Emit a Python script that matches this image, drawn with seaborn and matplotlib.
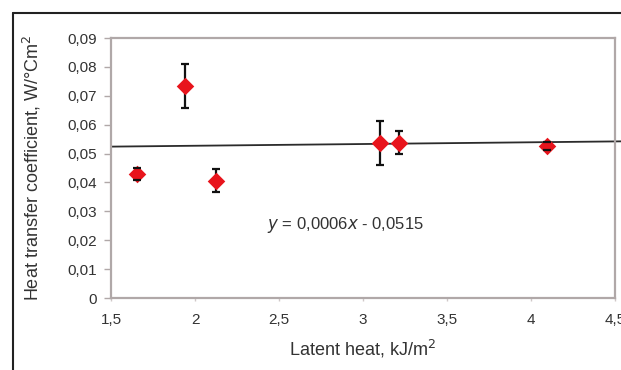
import numpy as np
import pandas as pd
import matplotlib
matplotlib.use("Agg")
import matplotlib.pyplot as plt
from matplotlib.lines import Line2D
from matplotlib.ticker import FuncFormatter
import seaborn as sns

# Measured points: latent heat (kJ/m²) vs heat transfer coefficient (W/°Cm²)
latent_heat = [1.655, 1.94, 2.125, 3.10, 3.215, 4.095]
htc = [0.0429, 0.0734, 0.0406, 0.0537, 0.0538, 0.0526]
htc_err = [0.0020, 0.0075, 0.0040, 0.0077, 0.0040, 0.0013]

# Linear trend: slope and intercept
slope = 0.0006
intercept = 0.0515

x_ticks = [1.5, 2, 2.5, 3, 3.5, 4, 4.5]
y_ticks = [0, 0.01, 0.02, 0.03, 0.04, 0.05, 0.06, 0.07, 0.08, 0.09]

sns.set_theme(style="white")
plt.rcParams["font.family"] = ["Liberation Sans", "DejaVu Sans"]

df = pd.DataFrame({"x": latent_heat, "y": htc, "err": htc_err})
trend_x = [1.5, 4.55]
trend = pd.DataFrame({"x": trend_x, "y": [slope * v + intercept for v in trend_x]})

fig = plt.figure(figsize=(6.21, 3.70), dpi=100)
ax = fig.add_axes([111 / 621, 1 - 298 / 370, (615 - 111) / 621, (298 - 38) / 370])

sns.lineplot(data=trend, x="x", y="y", ax=ax, color="#2b2b2b", lw=1.3,
             clip_on=False, zorder=2)
_, caps, _ = ax.errorbar(df["x"], df["y"], yerr=df["err"], fmt="none",
                         ecolor="#111111", elinewidth=1.6, capsize=3,
                         capthick=1.6, zorder=3)
for c in caps:
    c.set_zorder(5)
sns.scatterplot(data=df, x="x", y="y", ax=ax, marker="D", s=80, color="#e8141c",
                edgecolor="#e8141c", linewidth=0, zorder=4)

ax.set_xlim(1.5, 4.5)
ax.set_ylim(0, 0.09)
ax.set_xticks(x_ticks)
ax.set_yticks(y_ticks)

comma = FuncFormatter(lambda v, p: ("%g" % round(v, 4)).replace(".", ","))
ax.xaxis.set_major_formatter(comma)
ax.yaxis.set_major_formatter(comma)

for s in ax.spines.values():
    s.set_color("#b0a8a8")
    s.set_linewidth(1.6)

ax.tick_params(axis="y", direction="out", length=5, width=1, color="#b0a8a8",
               labelsize=11, labelcolor="#333333", pad=5, left=True)
ax.tick_params(axis="x", direction="out", length=2, width=1, color="#d0c8c8",
               labelsize=11, labelcolor="#333333", pad=9, bottom=True)

ax.set_xlabel("Latent heat, kJ/m$^2$", fontsize=13, color="#333333", labelpad=8)
ax.set_ylabel("Heat transfer coefficient, W/°Cm$^2$", fontsize=13, color="#333333")
ax.yaxis.set_label_coords(-(111 - 43) / 504, 0.5)

ax.text(2.43, 0.0254, r"$\it{y}$ = 0,0006$\it{x}$ - 0,0515", fontsize=12,
        color="#333333", va="center", ha="left")

# Outer frame (top and left edges)
fig.add_artist(Line2D([13 / 621, 1.0], [1 - 13 / 370, 1 - 13 / 370],
                      transform=fig.transFigure, color="#222222", lw=1.5))
fig.add_artist(Line2D([13 / 621, 13 / 621], [1 - 13 / 370, 0.0],
                      transform=fig.transFigure, color="#222222", lw=1.5))

fig.savefig("out.png", dpi=100)
